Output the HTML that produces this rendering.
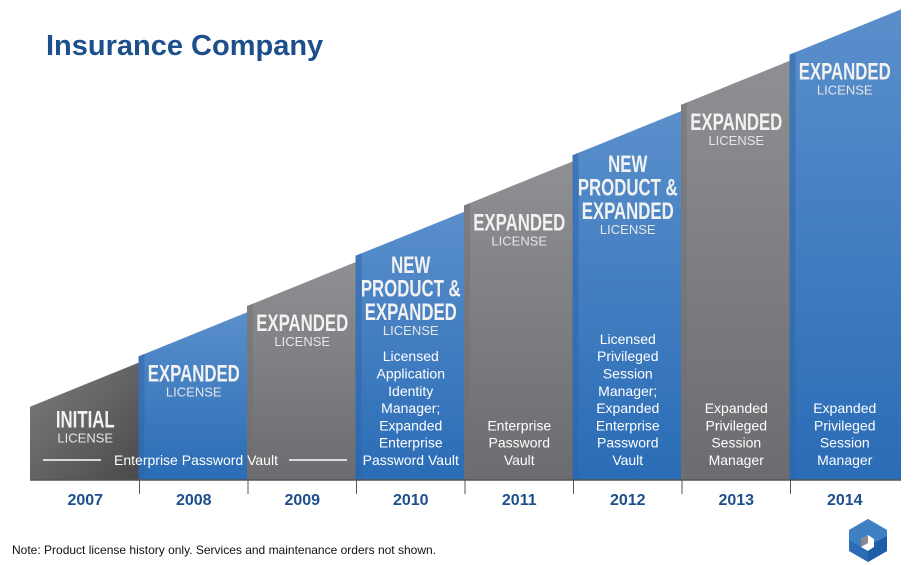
<!DOCTYPE html>
<html><head><meta charset="utf-8"><style>
body{margin:0;width:917px;height:565px;background:#fff;overflow:hidden;font-family:"Liberation Sans",sans-serif}
svg{display:block}
.hd{font-family:"Liberation Sans Narrow","Liberation Sans",sans-serif;font-weight:bold;fill:#f2f2f2;font-size:24px}
.lic{fill:#e6e6e6;font-size:13px}
.body{fill:#fff;font-size:14px}
.yr{fill:#1d4f8c;font-size:16px;font-weight:bold}
</style></head><body>
<svg id="chart" width="917" height="565">
<defs>
<linearGradient id="gGray" x1="0" y1="0" x2="0" y2="1"><stop offset="0" stop-color="#8f9093"/><stop offset="1" stop-color="#6b6c6f"/></linearGradient>
<linearGradient id="gDark" x1="0" y1="0" x2="1" y2="1"><stop offset="0" stop-color="#7d7e80"/><stop offset="1" stop-color="#49494b"/></linearGradient>
<linearGradient id="gBlue" x1="0" y1="0" x2="0" y2="1"><stop offset="0" stop-color="#5a8fcb"/><stop offset="1" stop-color="#2a6cb6"/></linearGradient>
</defs>
<text x="46" y="55" fill="#1d4f8c" font-size="29" font-weight="bold">Insurance Company</text>
<g id="cols"></g>
<line x1="30" y1="480" x2="901" y2="480" stroke="#555" stroke-width="1.5"/>
<text x="12" y="554" font-size="12" fill="#111">Note: Product license history only. Services and maintenance orders not shown.</text>
<g>
<polygon points="868,519 887,530 887,551 868,562 849,551 849,530" fill="#2b6cb5"/>
<polygon points="868,519 887,530 887,536 874,543 874,539 868,535 861,539 861,547 849,540 849,530" fill="#3f7fc4"/>
<polygon points="861,539 868,535 874,539 874,547 868,551 861,547" fill="#fff"/>
<polygon points="861,539 868,535 868,543 861,547" fill="#8a8a8a"/>
<polygon points="874,543 887,536 887,551 868,562 868,551 874,547" fill="#1f5ea6"/>
</g>
</svg>
<script>
const years=["2007","2008","2009","2010","2011","2012","2013","2014"];
const levels=[1,2,3,4,5,6,7,8];
const kinds=["dark","blue","gray","blue","gray","blue","gray","blue"];
const headers=[["INITIAL"],["EXPANDED"],["EXPANDED"],["NEW","PRODUCT &","EXPANDED"],["EXPANDED"],["NEW","PRODUCT &","EXPANDED"],["EXPANDED"],["EXPANDED"]];
const bodies=[[],[],[],["Licensed","Application","Identity","Manager;","Expanded","Enterprise","Password Vault"],["Enterprise","Password","Vault"],["Licensed","Privileged","Session","Manager;","Expanded","Enterprise","Password","Vault"],["Expanded","Privileged","Session","Manager"],["Expanded","Privileged","Session","Manager"]];
const NS="http://www.w3.org/2000/svg";
const g=document.getElementById('cols');
const x0=30,colW=108.5,base=480;
function xs(i){return x0+i*colW;}
function ys(v){return 457-v*50.3;}
const rise=44;
function mk(t,a){const e=document.createElementNS(NS,t);for(const k in a)e.setAttribute(k,a[k]);return e;}
years.forEach((yr,i)=>{
 const l=xs(i), r=(i==years.length-1)?901:xs(i+1)+3;
 const yl=ys(levels[i]), yrr=yl-rise*(r-l)/colW;
 const fill=kinds[i]=="blue"?"url(#gBlue)":kinds[i]=="gray"?"url(#gGray)":"url(#gDark)";
 const p=mk('polygon',{points:`${l},${yl} ${r},${yrr} ${r},${base} ${l},${base}`,fill:fill});
 
 
 g.appendChild(p);
 if(i>0){const s=mk('polygon',{points:`${l},${yl} ${l+6},${yl-2.5} ${l+6},${base} ${l},${base}`,fill:kinds[i]=="blue"?"#2d64a6":"#6e6f72",opacity:0.5});
 
 
 g.appendChild(s);}
 const cx=l+colW/2+1;
 const nh=headers[i].length;
 let y=yl+(nh>1?17:(i==0?21:25));
 headers[i].forEach(h=>{const t=mk('text',{x:cx,y:y,'text-anchor':'middle',class:'hd',transform:`translate(${cx},0) scale(0.7,1) translate(${-cx},0)`});t.textContent=h;
 
 
 g.appendChild(t);y+=23.5;});
 y-=8.5;
 const lt=mk('text',{x:cx,y:y,'text-anchor':'middle',class:'lic'});lt.textContent="LICENSE";
 
 
 g.appendChild(lt);
 const bl=bodies[i];
 bl.forEach((b,j)=>{const t=mk('text',{x:cx,y:465-(bl.length-1-j)*17.3,'text-anchor':'middle',class:'body'});t.textContent=b;
 
 
 g.appendChild(t);});
 const yt=mk('text',{x:cx,y:505,'text-anchor':'middle',class:'yr'});yt.textContent=yr;
 
 
 g.appendChild(yt);
 if(i>0){const tk=mk('line',{x1:l+1,y1:480,x2:l+1,y2:494,stroke:'#555','stroke-width':1});
 
 
 g.appendChild(tk);}
});
const ev=mk('text',{x:196,y:465,'text-anchor':'middle',class:'body'});ev.textContent="Enterprise Password Vault";


g.appendChild(ev);
[[43,101],[289,347]].forEach(s=>{const ln=mk('line',{x1:s[0],y1:460,x2:s[1],y2:460,stroke:'#fff','stroke-width':1.5});


g.appendChild(ln);});
</script>
</body></html>
